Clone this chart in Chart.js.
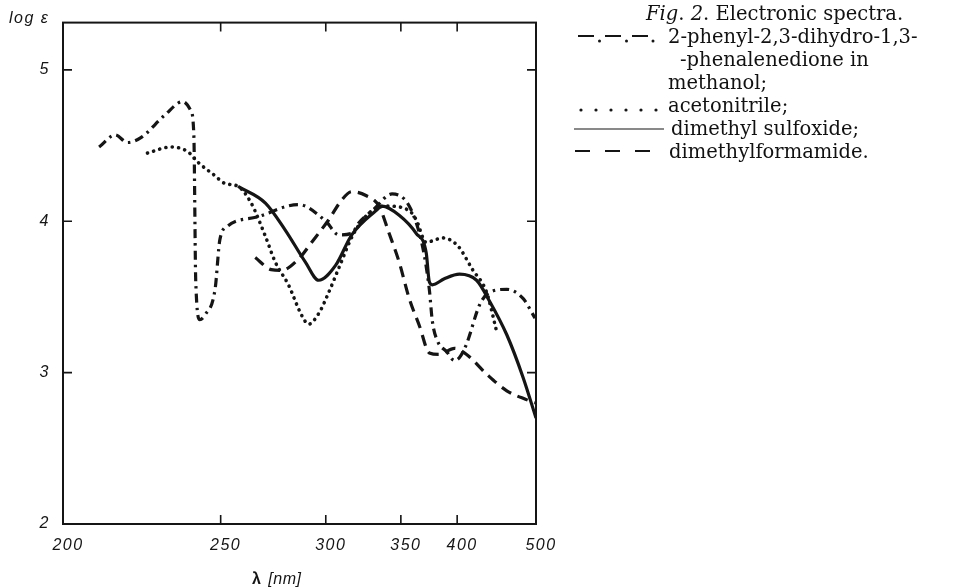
<!DOCTYPE html>
<html>
<head>
<meta charset="utf-8">
<script src="https://cdn.jsdelivr.net/npm/chart.js@4.4.1/dist/chart.umd.min.js"></script>
<style>
  html, body { margin: 0; padding: 0; background: #fff; }
  #wrap { position: relative; width: 954px; height: 587px; overflow: hidden; }
  canvas { position: absolute; left: 0; top: 0; }
  .lg { position: absolute; font-family: 'DejaVu Serif', serif; font-size: 19.5px; line-height: 23px; color: #111; white-space: nowrap; }
</style>
</head>
<body>
<div id="wrap">
  <canvas id="c" width="954" height="587"></canvas>
  <div class="lg" style="left:646px; top:2px;"><i>Fig</i>. <i>2</i>. Electronic spectra.</div>
  <div class="lg" style="left:668px; top:25px;">2-phenyl-2,3-dihydro-1,3-</div>
  <div class="lg" style="left:680px; top:48px;">-phenalenedione in</div>
  <div class="lg" style="left:668px; top:71px;">methanol;</div>
  <div class="lg" style="left:668px; top:94px;">acetonitrile;</div>
  <div class="lg" style="left:671px; top:117px;">dimethyl sulfoxide;</div>
  <div class="lg" style="left:669px; top:140px;">dimethylformamide.</div>
</div>
<script>
// ---- data (wavelength in nm, log epsilon) ----
const tickWavelengths = [200, 250, 300, 350, 400, 500];
const yTicks = [2, 3, 4, 5];

const methanolWl  = [209.6, 214.2, 217.8, 221.8, 229.6, 235.8, 238.7, 239.8, 240.5, 242.0, 243.9, 247.8, 249.7, 253.0, 265.8, 285.2, 300.0, 307.6, 315.6, 320.2, 330.3, 343.3, 356.6, 367.5, 373.6, 376.3, 380.9, 389.4, 397.3, 402.4, 409.8, 424.3, 436.0, 457.6, 480.2, 498.5];
const methanolLog = [4.49, 4.57, 4.52, 4.55, 4.70, 4.79, 4.73, 4.57, 3.60, 3.35, 3.38, 3.55, 3.88, 3.97, 4.03, 4.11, 4.00, 3.91, 3.92, 3.99, 4.08, 4.18, 4.10, 3.84, 3.55, 3.34, 3.21, 3.14, 3.08, 3.10, 3.19, 3.45, 3.53, 3.55, 3.49, 3.36];

const acetonitrileWl  = [224.0, 231.6, 237.6, 241.3, 247.8, 251.6, 257.1, 262.7, 269.1, 273.7, 280.1, 286.8, 290.5, 296.0, 301.7, 307.6, 316.9, 328.9, 338.9, 356.6, 362.3, 370.9, 379.9, 385.5, 400.3, 416.3, 432.3, 444.6];
const acetonitrileLog = [4.45, 4.49, 4.46, 4.39, 4.30, 4.25, 4.23, 4.12, 3.90, 3.73, 3.58, 3.38, 3.32, 3.39, 3.53, 3.69, 3.92, 4.07, 4.10, 4.07, 4.01, 3.86, 3.88, 3.89, 3.84, 3.68, 3.53, 3.27];

const dmsoWl  = [257.1, 269.1, 278.6, 288.8, 296.0, 305.8, 315.6, 331.7, 335.9, 348.7, 362.3, 370.9, 373.6, 376.3, 387.4, 402.4, 420.7, 436.0, 457.6, 480.2, 500.0];
const dmsoLog = [4.23, 4.12, 3.94, 3.73, 3.61, 3.71, 3.91, 4.07, 4.10, 4.04, 3.92, 3.79, 3.60, 3.58, 3.62, 3.65, 3.61, 3.47, 3.25, 2.97, 2.70];

const dmfWl  = [264.5, 271.8, 276.6, 285.2, 292.1, 301.7, 309.4, 315.6, 324.8, 333.8, 341.1, 348.7, 356.6, 365.0, 373.6, 382.7, 397.3, 409.8, 432.3, 457.6, 486.1, 498.5];
const dmfLog = [3.76, 3.68, 3.675, 3.75, 3.86, 4.01, 4.14, 4.195, 4.17, 4.10, 3.92, 3.73, 3.49, 3.31, 3.13, 3.12, 3.16, 3.12, 2.99, 2.88, 2.82, 2.80];

// x axis is linear in wavenumber (1e4 / lambda), drawn reversed
const toPts = (wl, lg) => wl.map((w, i) => ({ x: 1e4 / w, y: lg[i] }));

const INK = '#151515';

const framePlugin = {
  id: 'frame',
  beforeDraw(chart) {
    chart.ctx.letterSpacing = '1.5px';
  },
  afterDraw(chart) {
    const { ctx, chartArea: a, scales } = chart;
    ctx.save();
    ctx.letterSpacing = '0px';
    ctx.strokeStyle = INK;
    ctx.lineWidth = 2;
    ctx.strokeRect(a.left, a.top, a.right - a.left, a.bottom - a.top);
    ctx.lineWidth = 1.6;
    const tl = 9;
    // x inner ticks (top and bottom)
    tickWavelengths.slice(1, -1).forEach(w => {
      const px = scales.x.getPixelForValue(1e4 / w);
      ctx.beginPath();
      ctx.moveTo(px, a.top); ctx.lineTo(px, a.top + tl);
      ctx.moveTo(px, a.bottom); ctx.lineTo(px, a.bottom - tl);
      ctx.stroke();
    });
    // y inner ticks (left and right)
    yTicks.slice(1).forEach(v => {
      const py = scales.y.getPixelForValue(v);
      ctx.beginPath();
      ctx.moveTo(a.left, py); ctx.lineTo(a.left + tl, py);
      ctx.moveTo(a.right, py); ctx.lineTo(a.right - tl, py);
      ctx.stroke();
    });
    // axis titles
    ctx.fillStyle = INK;
    ctx.textBaseline = 'middle';
    ctx.textAlign = 'left';
    ctx.letterSpacing = '1.5px';
    ctx.font = 'italic 16px "Liberation Sans", sans-serif';
    ctx.fillText('log ε', 9, 19);
    ctx.letterSpacing = '0.5px';
    ctx.font = 'bold 16px "Liberation Sans", sans-serif';
    const lx = 252, ly = 580;
    ctx.fillText('λ', lx, ly);
    const lw = ctx.measureText('λ ').width;
    ctx.font = 'italic 16px "Liberation Sans", sans-serif';
    ctx.fillText('[nm]', lx + lw + 2, ly);

    // legend line samples
    ctx.letterSpacing = '0px';
    ctx.lineWidth = 2;
    ctx.lineCap = 'butt';
    // dash-dot sample
    [[578, 594], [605, 621], [632, 648]].forEach(([x0, x1]) => {
      ctx.beginPath(); ctx.moveTo(x0, 36); ctx.lineTo(x1, 36); ctx.stroke();
    });
    [599.5, 626.5, 653].forEach(x => { ctx.beginPath(); ctx.arc(x, 41, 1.5, 0, Math.PI * 2); ctx.fill(); });
    // dotted sample
    for (let i = 0; i < 6; i++) {
      ctx.beginPath(); ctx.arc(581 + i * 15, 110, 1.6, 0, Math.PI * 2); ctx.fill();
    }
    // solid sample
    ctx.lineWidth = 1.2;
    ctx.beginPath(); ctx.moveTo(574, 129); ctx.lineTo(664, 129); ctx.stroke();
    // dashed sample
    ctx.lineWidth = 2;
    [[575, 590], [605, 620], [635, 650]].forEach(([x0, x1]) => {
      ctx.beginPath(); ctx.moveTo(x0, 151); ctx.lineTo(x1, 151); ctx.stroke();
    });
    ctx.restore();
  }
};

const lineDs = (label, wl, lg, extra) => Object.assign({
  label,
  data: toPts(wl, lg),
  borderColor: INK,
  backgroundColor: INK,
  borderWidth: 3,
  pointRadius: 0,
  fill: false,
  cubicInterpolationMode: 'monotone'
}, extra);

new Chart(document.getElementById('c'), {
  type: 'line',
  data: {
    datasets: [
      lineDs('methanol', methanolWl, methanolLog, { borderDash: [9, 5, 2.5, 5], borderWidth: 3.2 }),
      lineDs('acetonitrile', acetonitrileWl, acetonitrileLog, { borderDash: [0.1, 6.3], borderWidth: 3.6, borderCapStyle: 'round' }),
      lineDs('dimethyl sulfoxide', dmsoWl, dmsoLog, { borderWidth: 3.2 }),
      lineDs('dimethylformamide', dmfWl, dmfLog, { borderDash: [11, 7], borderWidth: 3.2 })
    ]
  },
  options: {
    responsive: false,
    animation: false,
    layout: { padding: { left: 0, right: 418, top: 14, bottom: 0 } },
    plugins: { legend: { display: false }, tooltip: { enabled: false } },
    scales: {
      x: {
        type: 'linear',
        min: 20, max: 50,
        reverse: true,
        afterBuildTicks(s) { s.ticks = tickWavelengths.map(w => ({ value: 1e4 / w })); },
        afterFit(s) { s.height = 63; },
        grid: { display: false, drawTicks: false },
        border: { display: false },
        ticks: {
          autoSkip: false,
          maxRotation: 0,
          padding: 12,
          labelOffset: 5,
          color: INK,
          font: { family: '"Liberation Sans", sans-serif', size: 16, style: 'italic' },
          callback: v => String(Math.round(1e4 / v))
        }
      },
      y: {
        type: 'linear',
        min: 2, max: 5.312,
        afterBuildTicks(s) { s.ticks = yTicks.map(v => ({ value: v })); },
        afterFit(s) { s.width = 63; },
        grid: { display: false, drawTicks: false },
        border: { display: false },
        ticks: {
          padding: 13,
          color: INK,
          font: { family: '"Liberation Sans", sans-serif', size: 16, style: 'italic' }
        }
      }
    }
  },
  plugins: [framePlugin]
});
</script>
</body>
</html>
